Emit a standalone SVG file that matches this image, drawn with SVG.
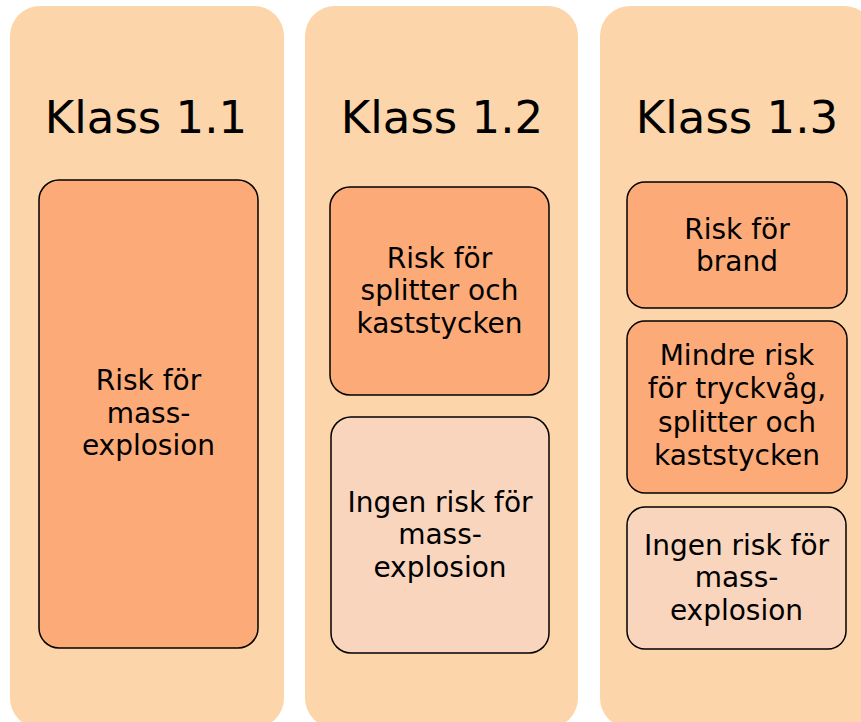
<svg xmlns="http://www.w3.org/2000/svg" width="861" height="722" viewBox="0 0 861 722">
<style>
.col{fill:#FDD5AB;stroke:none}
.dark{fill:#FCAB78;stroke:#000;stroke-width:1.5}
.light{fill:#F9D5BD;stroke:#000;stroke-width:1.5}
.title{font-family:"DejaVu Sans",sans-serif;font-size:45px;fill:#000;text-anchor:middle}
.t{font-family:"DejaVu Sans",sans-serif;font-size:28px;fill:#000;text-anchor:middle}
</style>
<rect width="861" height="722" fill="#fff"/>
<g id="col1">
<rect class="col" x="10" y="6" width="274" height="722" rx="30"/>
<text class="title" x="146" y="133">Klass 1.1</text>
</g>
<g id="col2">
<rect class="col" x="305" y="6" width="273" height="722" rx="30"/>
<text class="title" x="442" y="133">Klass 1.2</text>
</g>
<g id="col3">
<rect class="col" x="600" y="6" width="274" height="722" rx="30"/>
<text class="title" x="737" y="133">Klass 1.3</text>
</g>
<g id="box1">
<rect class="dark" x="39" y="180" width="219" height="468" rx="20"/>
<text class="t" x="148.5" y="390">Risk för</text>
<text class="t" x="148.5" y="423">mass-</text>
<text class="t" x="148.5" y="455">explosion</text>
</g>
<g id="box2a">
<rect class="dark" x="330" y="187" width="219" height="208" rx="20"/>
<text class="t" x="439.5" y="268">Risk för</text>
<text class="t" x="439.5" y="300">splitter och</text>
<text class="t" x="439.5" y="333">kaststycken</text>
</g>
<g id="box2b">
<rect class="light" x="331" y="417" width="218" height="236" rx="20"/>
<text class="t" x="440" y="512">Ingen risk för</text>
<text class="t" x="440" y="544">mass-</text>
<text class="t" x="440" y="577">explosion</text>
</g>
<g id="box3a">
<rect class="dark" x="627" y="182" width="220" height="126" rx="18"/>
<text class="t" x="737" y="239">Risk för</text>
<text class="t" x="737" y="271">brand</text>
</g>
<g id="box3b">
<rect class="dark" x="627" y="321" width="220" height="172" rx="18"/>
<text class="t" x="737" y="365">Mindre risk</text>
<text class="t" x="737" y="398">för tryckvåg,</text>
<text class="t" x="737" y="432">splitter och</text>
<text class="t" x="737" y="465">kaststycken</text>
</g>
<g id="box3c">
<rect class="light" x="627" y="507" width="219" height="142" rx="18"/>
<text class="t" x="736.5" y="555">Ingen risk för</text>
<text class="t" x="736.5" y="587">mass-</text>
<text class="t" x="736.5" y="620">explosion</text>
</g>
<g id="connectors"></g>
</svg>
